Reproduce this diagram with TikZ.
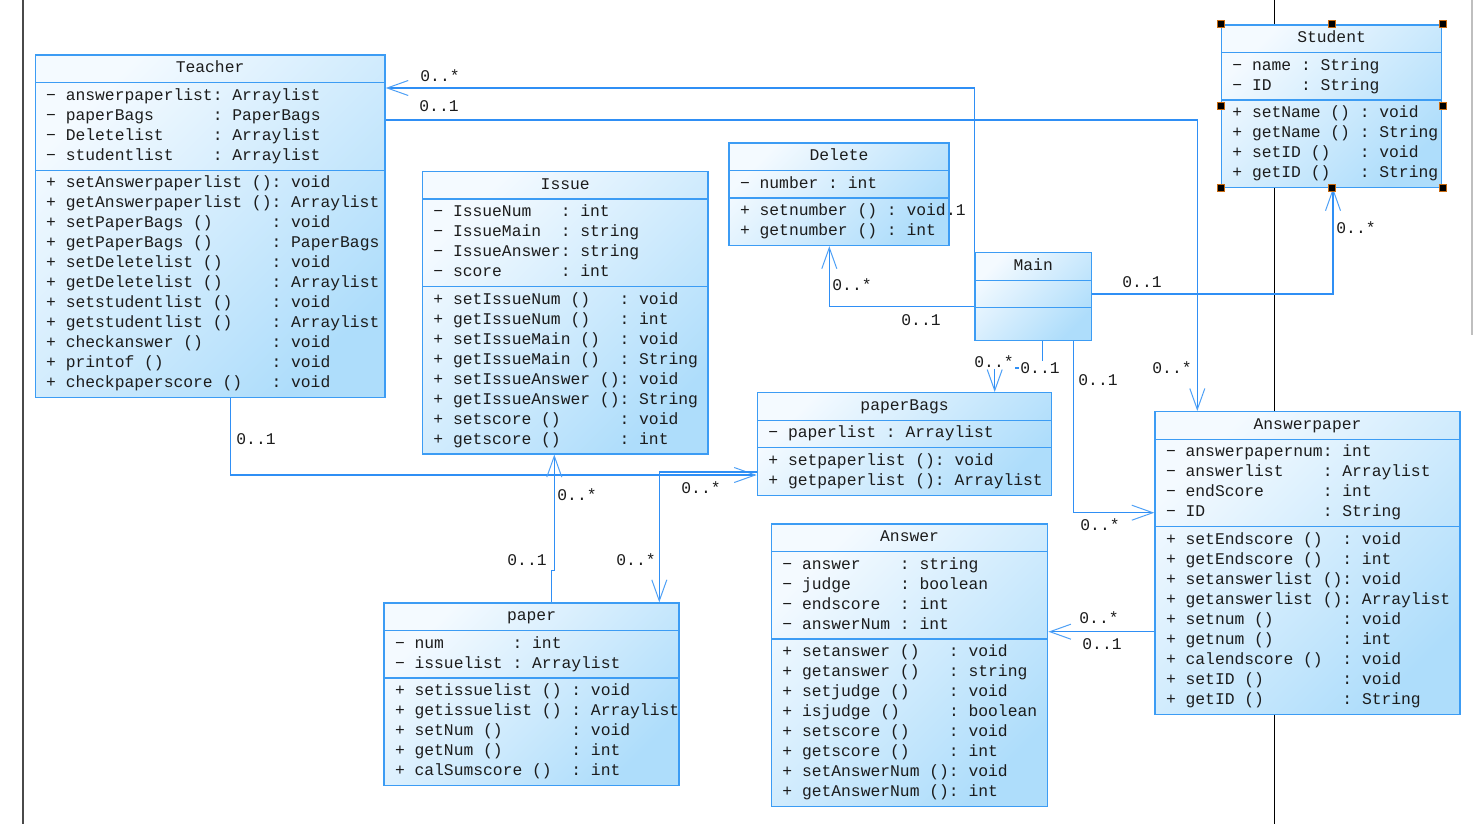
\documentclass[tikz,border=0pt]{standalone}
\usepackage{fontspec}
\setmonofont{Liberation Mono}
\usetikzlibrary{arrows.meta,positioning,calc,shapes.multipart,backgrounds}
\definecolor{umlline}{HTML}{2F8FF5}
\definecolor{umledge}{HTML}{3C9CF4}
\definecolor{umltop}{HTML}{F4FAFF}
\definecolor{umlbottom}{HTML}{AEDDFB}
\definecolor{umltext}{HTML}{1C1C1C}
\definecolor{frameline}{HTML}{4A4A4A}
\definecolor{handle}{HTML}{C86A10}
\newcommand{\umlfont}{\fontsize{16.33}{20}\selectfont\ttfamily}
\newcommand{\members}[1]{\begin{tabular}{@{\hspace{11pt}}l@{}}#1\end{tabular}}

\begin{document}
\begin{tikzpicture}[x=1pt,y=-1pt,
  umlclass/.style={rectangle split,rectangle split parts=3,rectangle split part align={center,left,left},
    anchor=north west,draw=umledge,line width=1.4pt,top color=umltop,bottom color=umlbottom,shading angle=45,
    inner xsep=0pt,inner ysep=3.05pt,font=\umlfont,text=umltext},
  assoc/.style={draw=umlline,line width=1.4pt,-{Straight Barb[length=21pt,width=15pt,line width=1pt,color=umlline!85]}},
  mult/.style={font=\umlfont,text=umltext,fill=white,inner sep=1pt}]
\useasboundingbox (0,0) rectangle (1477,824);
% classes
\node[umlclass,minimum width=349.8pt] (teacher) at (34.5,54.5) {\strut Teacher
  \nodepart{second}\members{−~answerpaperlist:~Arraylist\\ −~paperBags~~~~~~:~PaperBags\\ −~Deletelist~~~~~:~Arraylist\\ −~studentlist~~~~:~Arraylist}
  \nodepart{third}\members{+~setAnswerpaperlist~():~void\\ +~getAnswerpaperlist~():~Arraylist\\ +~setPaperBags~()~~~~~~:~void\\ +~getPaperBags~()~~~~~~:~PaperBags\\ +~setDeletelist~()~~~~~:~void\\ +~getDeletelist~()~~~~~:~Arraylist\\ +~setstudentlist~()~~~~:~void\\ +~getstudentlist~()~~~~:~Arraylist\\ +~checkanswer~()~~~~~~~:~void\\ +~printof~()~~~~~~~~~~~:~void\\ +~checkpaperscore~()~~~:~void}};
\node[umlclass,minimum width=285.6pt] (issue) at (421.7,170.7) {\strut Issue
  \nodepart{second}\members{−~IssueNum~~~:~int\\ −~IssueMain~~:~string\\ −~IssueAnswer:~string\\ −~score~~~~~~:~int}
  \nodepart{third}\members{+~setIssueNum~()~~~:~void\\ +~getIssueNum~()~~~:~int\\ +~setIssueMain~()~~:~void\\ +~getIssueMain~()~~:~String\\ +~setIssueAnswer~():~void\\ +~getIssueAnswer~():~String\\ +~setscore~()~~~~~~:~void\\ +~getscore~()~~~~~~:~int}};
\node[umlclass,minimum width=220pt] (delete) at (728.3,142.3) {\strut Delete
  \nodepart{second}\members{−~number~:~int}
  \nodepart{third}\members{+~setnumber~()~:~void\\ +~getnumber~()~:~int}};
\node[umlclass,minimum width=116.4pt] (main) at (974.3,252) {\strut Main
  \nodepart{second}\strut
  \nodepart{third}\rule{0pt}{25pt}};
\node[umlclass,minimum width=220.3pt] (student) at (1220.7,24.3) {\strut Student
  \nodepart{second}\members{−~name~:~String\\ −~ID~~~:~String}
  \nodepart{third}\members{+~setName~()~:~void\\ +~getName~()~:~String\\ +~setID~()~~~:~void\\ +~getID~()~~~:~String}};
\node[umlclass,minimum width=305pt] (answerpaper) at (1154.3,411) {\strut Answerpaper
  \nodepart{second}\members{−~answerpapernum:~int\\ −~answerlist~~~~:~Arraylist\\ −~endScore~~~~~~:~int\\ −~ID~~~~~~~~~~~~:~String}
  \nodepart{third}\members{+~setEndscore~()~~:~void\\ +~getEndscore~()~~:~int\\ +~setanswerlist~():~void\\ +~getanswerlist~():~Arraylist\\ +~setnum~()~~~~~~~:~void\\ +~getnum~()~~~~~~~:~int\\ +~calendscore~()~~:~void\\ +~setID~()~~~~~~~~:~void\\ +~getID~()~~~~~~~~:~String}};
\node[umlclass,minimum width=294.3pt] (paperbags) at (756.7,392) {\strut paperBags
  \nodepart{second}\members{−~paperlist~:~Arraylist}
  \nodepart{third}\members{+~setpaperlist~():~void\\ +~getpaperlist~():~Arraylist}};
\node[umlclass,minimum width=276.3pt] (answer) at (770.7,523.3) {\strut Answer
  \nodepart{second}\members{−~answer~~~~:~string\\ −~judge~~~~~:~boolean\\ −~endscore~~:~int\\ −~answerNum~:~int}
  \nodepart{third}\members{+~setanswer~()~~~:~void\\ +~getanswer~()~~~:~string\\ +~setjudge~()~~~~:~void\\ +~isjudge~()~~~~~:~boolean\\ +~setscore~()~~~~:~void\\ +~getscore~()~~~~:~int\\ +~setAnswerNum~():~void\\ +~getAnswerNum~():~int}};
\node[umlclass,minimum width=295pt] (paper) at (383.3,602.3) {\strut paper
  \nodepart{second}\members{−~num~~~~~~~:~int\\ −~issuelist~:~Arraylist}
  \nodepart{third}\members{+~setissuelist~()~:~void\\ +~getissuelist~()~:~Arraylist\\ +~setNum~()~~~~~~~:~void\\ +~getNum~()~~~~~~~:~int\\ +~calSumscore~()~~:~int}};
% selection handles
\foreach \corner in {north west,north,north east,west,east,south west,south,south east}
  \filldraw[fill=black,draw=handle,line width=0.8pt] ([shift={(-3.5,-3.5)}]student.\corner) rectangle ++(7,7);
\begin{scope}[on background layer]
\fill[white] (0,0) rectangle (1477,824);
\draw[frameline,line width=2pt] (23,0) -- (23,824);
\draw[black,line width=1pt] (1274.5,0) -- (1274.5,824);
\draw[black!25,line width=1.5pt] (1472,0) -- (1472,335);
% associations
\draw[assoc] (main.north west) |- ($(teacher.north east)+(0,33.5)$);
\draw[assoc] ($(teacher.north east)+(0,65.5)$) -| ($(answerpaper.north west)+(43,0)$);
\draw[assoc] ($(main.north west)+(0,54.7)$) -| ($(delete.south west)+(101,0)$);
\draw[assoc] ($(main.north east)+(0,42)$) -| ($(student.south west)+(112.3,0)$);
\draw[assoc] ($(main.south west)+(68,0)$) -- ++(0,27) -| ($(paperbags.north west)+(238,0)$);
\draw[assoc] ($(main.south west)+(99,0)$) |- ($(answerpaper.north west)+(0,101.7)$);
\draw[assoc] ($(teacher.south west)+(196.2,0)$) |- ($(paperbags.north west)+(0,83)$);
\draw[assoc] ($(paperbags.north west)+(0,80)$) -| ($(paper.north west)+(276,0)$);
\draw[assoc] ($(paper.north west)+(168,0)$) -- ++(0,-32) -| ($(issue.south west)+(132.6,0)$);
\draw[assoc] ($(answerpaper.north west)+(0,220.7)$) -- ($(answer.north east)+(0,108.4)$);
% multiplicities
\node[mult] at (440,76) {0..*};
\node[mult] at (439,106) {0..1};
\node[mult] at (946,210) {0..1};
\node[mult] at (852,285) {0..*};
\node[mult] at (921,320) {0..1};
\node[mult] at (1142,282) {0..1};
\node[mult] at (1356,228) {0..*};
\node[mult] at (994,362) {0..*};
\node[mult] at (1040,368) {0..1};
\node[mult] at (1098,380) {0..1};
\node[mult] at (1172,368) {0..*};
\node[mult] at (1100,525) {0..*};
\node[mult] at (1099,618) {0..*};
\node[mult] at (1102,644) {0..1};
\node[mult] at (256,439) {0..1};
\node[mult] at (701,488) {0..*};
\node[mult] at (636,560) {0..*};
\node[mult] at (577,495) {0..*};
\node[mult] at (527,560) {0..1};
\end{scope}
\end{tikzpicture}
\end{document}
